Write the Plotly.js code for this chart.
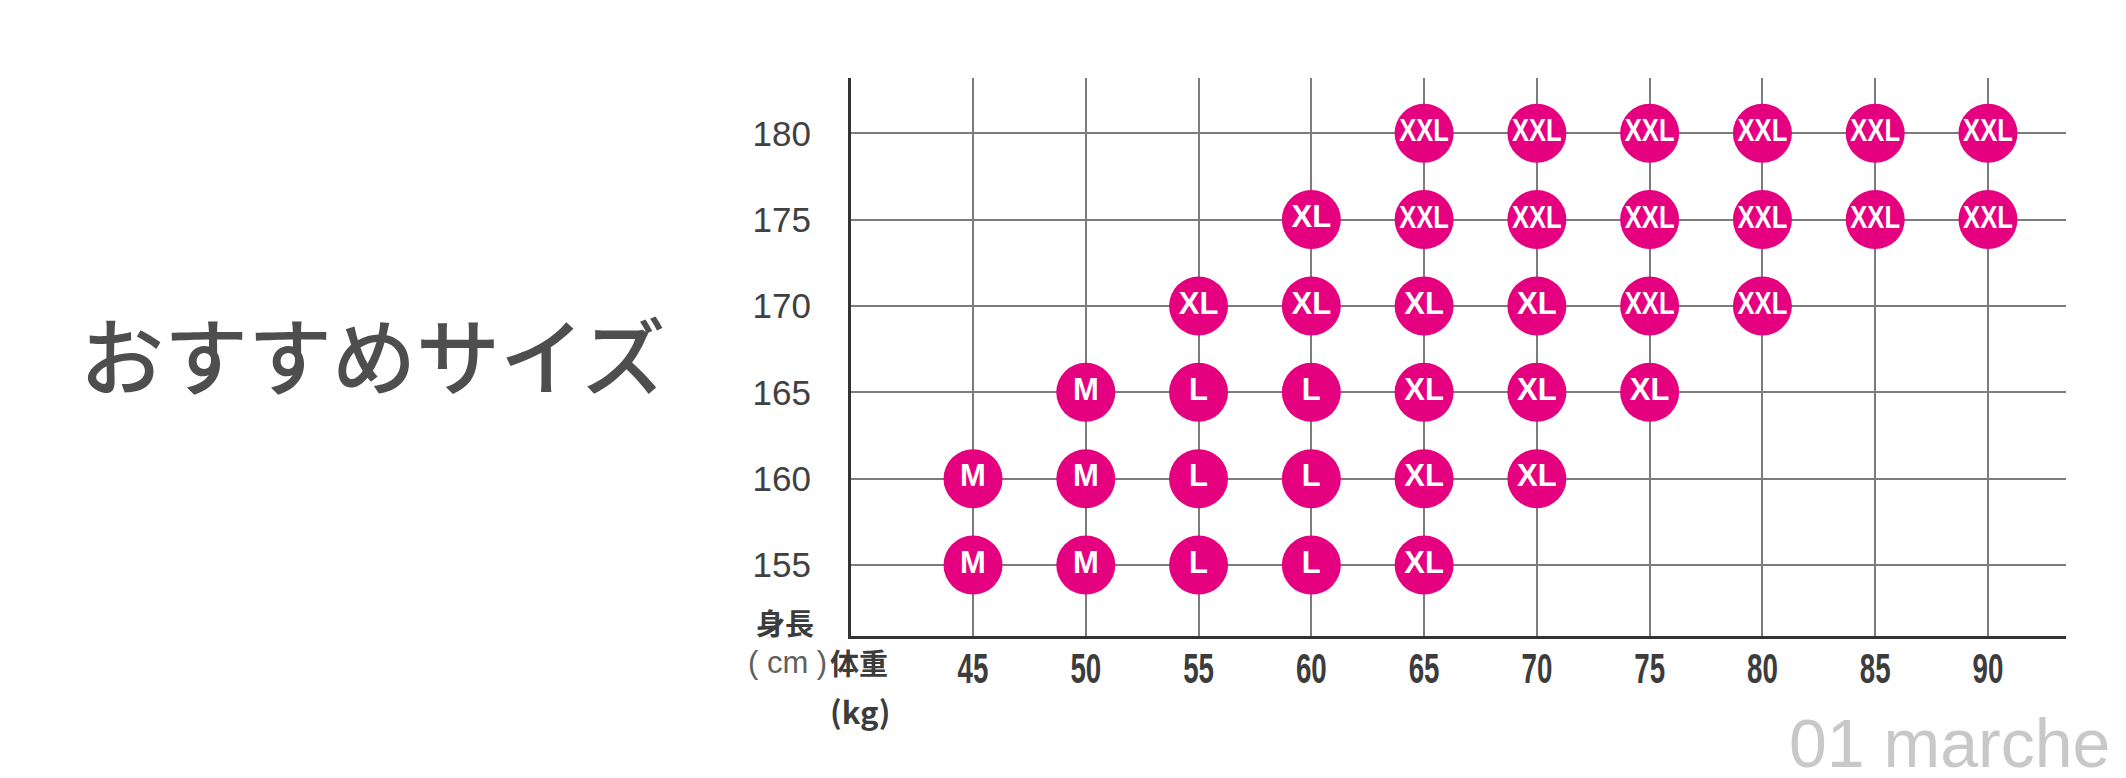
<!DOCTYPE html>
<html>
<head>
<meta charset="utf-8">
<script src="https://cdn.plot.ly/plotly-3.0.1.min.js"></script>
<style>html,body{margin:0;padding:0;background:#fff;}#chart{width:2126px;height:778px;}</style>
</head>
<body>
<div id="chart"></div>
<script>
// ---- data ----
const weights = [65,70,75,80,85,90, 60,65,70,75,80,85,90, 55,60,65,70,75,80, 50,55,60,65,70,75, 45,50,55,60,65,70, 45,50,55,60,65];
const heights = [180,180,180,180,180,180, 175,175,175,175,175,175,175, 170,170,170,170,170,170, 165,165,165,165,165,165, 160,160,160,160,160,160, 155,155,155,155,155];
const sizes   = ['XXL','XXL','XXL','XXL','XXL','XXL',
                 'XL','XXL','XXL','XXL','XXL','XXL','XXL',
                 'XL','XL','XL','XL','XXL','XXL',
                 'M','L','L','XL','XL','XL',
                 'M','M','L','L','XL','XL',
                 'M','M','L','L','XL'];
const xTicks = [45,50,55,60,65,70,75,80,85,90];
const yTicks = [155,160,165,170,175,180];
const titleText = 'おすすめサイズ';
const yLabel = '身長';
const xUnitLabel = '( cm )';
const xLabel = '体重';
const xUnit2 = '(kg)';
const watermark = '01 marche';

// ---- layout geometry ----
const W = 2126, H = 778;
const L = 851, R = 2066, T = 78, B = 636;
const px = x => (x - L) / (R - L);
const py = y => (B - y) / (B - T);

const pink = '#e4007f';
function subset(pred){
  const x=[],y=[],t=[];
  sizes.forEach((s,i)=>{ if(pred(s)){x.push(weights[i]);y.push(heights[i]);t.push(s);} });
  return {x,y,t};
}
const a = subset(s => s !== 'XXL');
const b = subset(s => s === 'XXL');
const traces = [
  {type:'scatter', mode:'markers+text', x:a.x, y:a.y, text:a.t, textposition:'middle center',
   marker:{size:59, color:pink, line:{width:0}},
   textfont:{family:'Liberation Sans, Arial, sans-serif', size:31, color:'#ffffff', weight:'bold'},
   hoverinfo:'skip', showlegend:false, cliponaxis:false},
  {type:'scatter', mode:'markers+text', x:b.x, y:b.y, text:b.t, textposition:'middle center',
   marker:{size:59, color:pink, line:{width:0}},
   textfont:{family:'Liberation Sans, Arial, sans-serif', size:32, color:'#ffffff', weight:'bold'},
   hoverinfo:'skip', showlegend:false, cliponaxis:false}
];

const layout = {
  width: W, height: H,
  paper_bgcolor:'#ffffff', plot_bgcolor:'#ffffff',
  margin:{l:L, r:W-R, t:T, b:H-B, pad:0},
  title:{text:titleText, xref:'container', yref:'container', x:80/W, xanchor:'left', y:1-360/H, yanchor:'middle',
         font:{family:'Noto Sans CJK JP, sans-serif', size:84, color:'#4e4e4e', weight:500}},
  xaxis:{range:[39.59, 93.46], tickvals:xTicks, ticktext:xTicks.map(String),
         showgrid:true, gridcolor:'#7c7c7c', gridwidth:2, zeroline:false,
         showline:true, linecolor:'#333333', linewidth:3, ticks:'', ticklabelstandoff:-6,
         tickfont:{family:'Liberation Sans, Arial, sans-serif', size:42, color:'#3c3c3c', weight:'bold'},
         fixedrange:true},
  yaxis:{range:[150.89, 183.2], tickvals:yTicks, ticktext:yTicks.map(String),
         showgrid:true, gridcolor:'#7c7c7c', gridwidth:2, zeroline:false,
         showline:true, linecolor:'#333333', linewidth:3, ticks:'', ticklabelstandoff:30,
         tickfont:{family:'Liberation Sans, Arial, sans-serif', size:35, color:'#404040'},
         fixedrange:true},
  annotations:[
    {text:yLabel, xref:'paper', yref:'paper', x:px(785), y:py(622), xanchor:'center', yanchor:'middle', showarrow:false,
     font:{family:'Noto Sans CJK JP, sans-serif', size:29, color:'#3c3c3c', weight:'bold'}},
    {text:xUnitLabel, xref:'paper', yref:'paper', x:px(829), y:py(662), xanchor:'right', yanchor:'middle', showarrow:false,
     font:{family:'Liberation Sans, Arial, sans-serif', size:31, color:'#606060'}},
    {text:xLabel, xref:'paper', yref:'paper', x:px(828), y:py(662), xanchor:'left', yanchor:'middle', showarrow:false,
     font:{family:'Noto Sans CJK JP, sans-serif', size:29, color:'#3c3c3c', weight:'bold'}},
    {text:xUnit2, xref:'paper', yref:'paper', x:px(860), y:py(711), xanchor:'center', yanchor:'middle', showarrow:false,
     font:{family:'Noto Sans CJK JP, sans-serif', size:31, color:'#3c3c3c', weight:'bold'}},
    {text:watermark, xref:'paper', yref:'paper', x:px(2112), y:py(743), xanchor:'right', yanchor:'middle', showarrow:false,
     font:{family:'Liberation Sans, Arial, sans-serif', size:68, color:'#c8c8c8'}}
  ]
};

// horizontally condense a text element about its own anchor point
function condense(el, sx){
  const x = parseFloat(el.getAttribute('x')) || 0;
  const y = parseFloat(el.getAttribute('y')) || 0;
  const prev = el.getAttribute('transform') || '';
  el.setAttribute('transform', prev + ` translate(${x},${y}) scale(${sx},1) translate(${-x},${-y})`);
}
Plotly.newPlot('chart', traces, layout, {staticPlot:true, displayModeBar:false}).then(gd => {
  gd.querySelectorAll('.xtick text').forEach(el => condense(el, 0.66));
  const tr = gd.querySelectorAll('.scatterlayer .trace');
  if (tr[1]) tr[1].querySelectorAll('.textpoint text').forEach(el => condense(el, 0.8));
});
</script>
</body>
</html>
